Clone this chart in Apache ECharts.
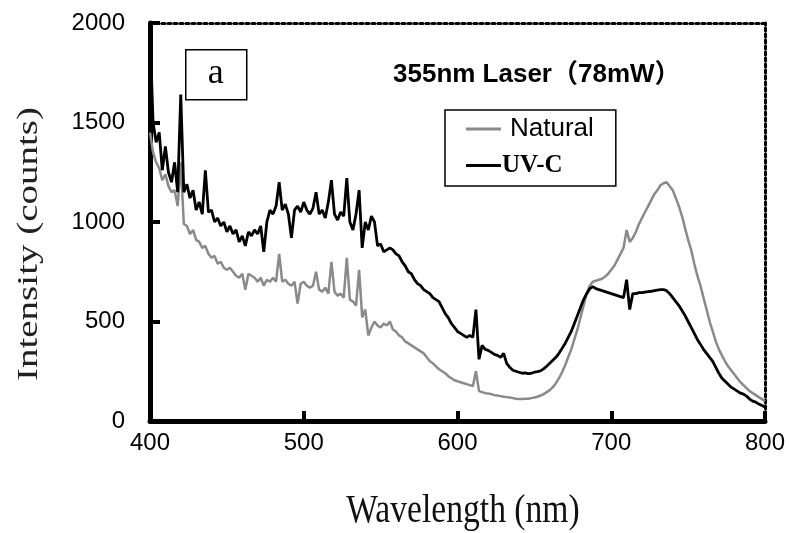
<!DOCTYPE html>
<html>
<head>
<meta charset="utf-8">
<script src="https://cdn.jsdelivr.net/npm/echarts@6/dist/echarts.min.js"></script>
<style>
  html, body { margin: 0; padding: 0; background: #fff; }
  #chart-container { width: 789px; height: 533px; }
</style>
</head>
<body>
<div id="chart-container"></div>
<script>
// 波长网格 400–800 nm，每 2 nm 一个点
const wavelengths = [];
for (let w = 400; w <= 800; w += 2) wavelengths.push(w);

// UV-C 照射后的光谱
const uvcValues = [
  1950, 1500, 1400, 1450, 1260, 1380, 1250, 1200, 1300, 1150,
  1640, 1150, 1190, 1120, 1160, 1060, 1100, 1040, 1260, 1050,
  1060, 1000, 1020, 980, 1000, 950, 980, 940, 960, 900,
  930, 880, 950, 930, 960, 940, 980, 850, 1000, 1060,
  1040, 1080, 1200, 1060, 1090, 1040, 920, 1060, 1080, 1050,
  1100, 1060, 1040, 1070, 1150, 1040, 1060, 1020, 1100, 1210,
  1040, 1010, 1050, 1030, 1220, 1000, 960, 1040, 1160, 870,
  1000, 960, 1030, 1000, 880, 890, 850, 860, 870, 860,
  840, 830, 800, 780, 750, 740, 710, 690, 680, 660,
  650, 640, 620, 610, 600, 570, 540, 520, 490, 470,
  450, 440, 430, 420, 430, 420, 560, 310, 380, 360,
  355, 345, 335, 330, 320, 340, 290, 270, 255, 250,
  245, 240, 242, 238, 240, 245, 248, 252, 262, 275,
  290, 305, 320, 340, 365, 390, 420, 450, 490, 530,
  570, 610, 640, 665, 675, 665, 660, 655, 650, 645,
  640, 635, 630, 625, 620, 710, 560, 640, 640, 645,
  645, 648, 650, 652, 655, 658, 660, 660, 655, 640,
  620, 600, 580, 555, 530, 500, 470, 440, 410, 385,
  360, 340, 320, 300, 270, 240, 215, 200, 185, 170,
  160, 150, 140, 135, 125, 110, 100, 95, 85, 78,
  70
];

// 天然样品光谱
const naturalValues = [
  1450, 1350, 1300, 1270, 1210, 1240, 1180, 1150, 1160, 1080,
  1300, 990, 980, 940, 960, 910, 900, 870, 880, 840,
  820, 830, 790, 800, 770, 760, 770, 750, 730, 720,
  740, 660, 740, 730, 720, 700, 720, 680, 710, 700,
  720, 700, 840, 700, 710, 690, 680, 700, 590, 690,
  700, 680, 670, 680, 750, 660, 650, 670, 640, 800,
  650, 630, 640, 620, 820, 610, 600, 580, 760, 520,
  560, 430, 470, 500, 480, 470, 490, 480, 500, 460,
  450, 430, 420, 400, 390, 380, 370, 360, 350, 340,
  320, 300, 290, 275, 260, 250, 240, 225, 215, 205,
  200, 195, 190, 185, 180, 175, 250, 150, 145, 140,
  138, 135, 130, 128, 125, 122, 120, 118, 115, 112,
  110, 110, 112, 112, 115, 118, 122, 128, 135, 145,
  155, 170, 190, 215, 245, 280, 320, 360, 410, 460,
  520, 580, 640, 680, 700, 705, 710, 715, 725, 740,
  760, 780, 810, 840, 870, 960, 900, 920, 950, 990,
  1020, 1050, 1080, 1110, 1140, 1160, 1185, 1195, 1200, 1180,
  1160, 1120, 1080, 1030, 970, 910, 860, 790, 730, 680,
  620, 560, 500, 450, 400, 360, 330, 300, 275, 255,
  235, 215, 195, 180, 165, 150, 140, 130, 120, 110,
  100
];

const xTicks = [400, 500, 600, 700, 800];
const yTicks = [0, 500, 1000, 1500, 2000];

const toPairs = vals => wavelengths.map((w, i) => [w, vals[i]]);

const chartOption = {
  animation: false,
  backgroundColor: '#fff',
  grid: { left: 150, right: 24, top: 23, bottom: 112 },
  title: {
    text: '355nm Laser（78mW）',
    left: 388,
    top: 57,
    textStyle: {
      fontFamily: 'Liberation Sans, Noto Sans CJK JP',
      fontWeight: 'bold',
      fontSize: 26,
      color: '#000'
    }
  },
  legend: {
    orient: 'vertical',
    left: 445,
    top: 110,
    padding: [6, 22, 8, 21],
    itemGap: 11,
    itemWidth: 35,
    itemHeight: 3,
    borderColor: '#000',
    borderWidth: 1.5,
    data: [
      { name: 'Natural', icon: 'rect',
        textStyle: { fontFamily: 'Liberation Sans', fontSize: 26, color: '#000', padding: [0, 0, 0, 4] } },
      { name: 'UV-C', icon: 'rect',
        textStyle: { fontFamily: 'Liberation Serif', fontWeight: 'bold', fontSize: 25, color: '#000', padding: [0, 0, 0, -4] } }
    ]
  },
  graphic: [
    {
      type: 'group', left: 185, top: 49,
      children: [
        { type: 'rect', shape: { x: 0, y: 0, width: 61, height: 50 },
          style: { fill: '#fff', stroke: '#000', lineWidth: 1.5 } },
        { type: 'text', x: 30, y: 24,
          style: { text: 'a', font: '36px Liberation Serif', fill: '#000', align: 'center', verticalAlign: 'middle' } }
      ]
    },
    {
      type: 'text', x: 29, y: 244, rotation: Math.PI / 2, scaleX: 1.3,
      style: { text: 'Intensity (counts)', font: '30px Liberation Serif', fill: '#222', align: 'center', verticalAlign: 'middle' }
    },
    {
      type: 'text', x: 463, y: 511, scaleX: 0.84,
      style: { text: 'Wavelength (nm)', font: '40px Liberation Serif', fill: '#111', align: 'center', verticalAlign: 'middle' }
    }
  ],
  xAxis: [
    {
      type: 'value', min: 400, max: 800, interval: 100,
      axisLine: { show: true, onZero: false, lineStyle: { color: '#000', width: 5 } },
      axisTick: { inside: true, length: 10, lineStyle: { color: '#000', width: 4 } },
      axisLabel: {
        margin: 10, fontFamily: 'Liberation Sans', fontSize: 24, color: '#000',
        formatter: v => (xTicks.includes(v) ? String(v) : '')
      },
      splitLine: { show: false }
    },
    {
      type: 'value', position: 'top', min: 400, max: 800,
      axisLine: { show: true, onZero: false, lineStyle: { color: '#000', width: 3, type: 'dotted' } },
      axisTick: { show: false }, axisLabel: { show: false }, splitLine: { show: false }
    }
  ],
  yAxis: [
    {
      type: 'value', min: 0, max: 2000, interval: 500,
      axisLine: { show: true, onZero: false, lineStyle: { color: '#000', width: 5 } },
      axisTick: { show: true, inside: true, length: 10, lineStyle: { color: '#000', width: 4 } },
      axisLabel: {
        margin: 25, fontFamily: 'Liberation Sans', fontSize: 24, color: '#000',
        formatter: v => (yTicks.includes(v) ? String(v) : '')
      },
      splitLine: { show: false }
    },
    {
      type: 'value', position: 'right', min: 0, max: 2000,
      axisLine: { show: true, onZero: false, lineStyle: { color: '#000', width: 3, type: 'dotted' } },
      axisTick: { show: false }, axisLabel: { show: false }, splitLine: { show: false }
    }
  ],
  series: [
    {
      name: 'Natural', type: 'line', showSymbol: false,
      data: toPairs(naturalValues),
      itemStyle: { color: '#8a8a8a' },
      lineStyle: { color: '#8a8a8a', width: 2.5 }
    },
    {
      name: 'UV-C', type: 'line', showSymbol: false,
      data: toPairs(uvcValues),
      itemStyle: { color: '#000' },
      lineStyle: { color: '#000', width: 2.8 }
    }
  ]
};

const chartContainer = document.getElementById('chart-container');
const chart = echarts.init(chartContainer);
chart.setOption(chartOption);
</script>
</body>
</html>
